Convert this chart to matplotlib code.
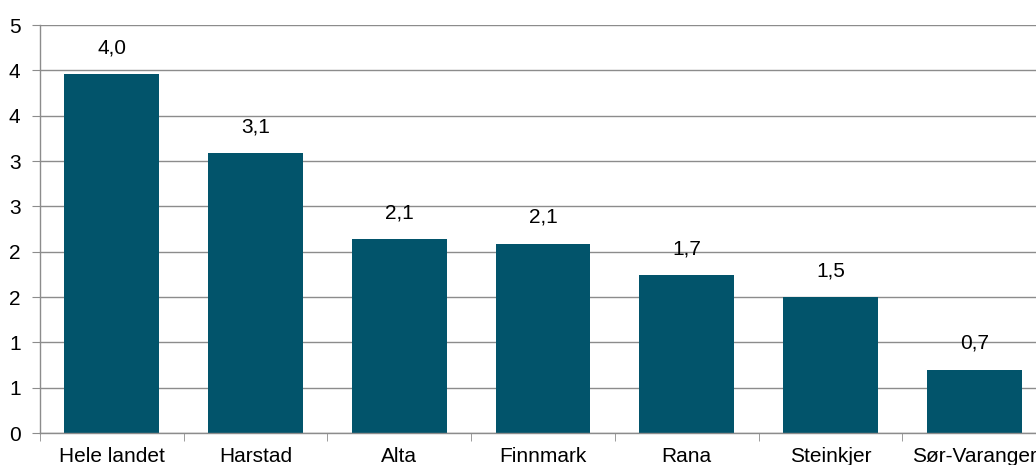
import matplotlib
matplotlib.use("Agg")
import matplotlib.pyplot as plt
from matplotlib.ticker import FixedLocator, FuncFormatter

categories = ["Hele landet", "Harstad", "Alta", "Finnmark", "Rana", "Steinkjer", "Sør-Varanger"]
values = [3.96, 3.09, 2.14, 2.09, 1.74, 1.50, 0.70]
y_ticks = [0, 0.5, 1, 1.5, 2, 2.5, 3, 3.5, 4, 4.5]

plt.rcParams['font.family'] = ['Liberation Sans', 'DejaVu Sans']
FS = 15

fig = plt.figure(figsize=(10.36, 4.65), dpi=100)
ax = fig.add_axes([40/1036, 32/465, 1006/1036, 408/465])

x = list(range(len(categories)))
ax.bar(x, values, width=0.66, color="#02546b", zorder=3)

for xi, v in zip(x, values):
    ax.annotate(f"{v:.1f}".replace(".", ","), (xi, v), xytext=(0, 12),
                textcoords="offset points", ha="center", va="bottom",
                fontsize=FS, color="#000000")

ax.set_xlim(-0.5, len(categories) - 0.5)
ax.set_ylim(0, 4.5)
ax.yaxis.set_major_locator(FixedLocator(y_ticks))
ax.yaxis.set_major_formatter(FuncFormatter(lambda v, p: f"{int(v + 0.5)}" if v > 0 else "0"))
ax.grid(axis="y", color="#8c8c8c", linewidth=1, zorder=0)

ax.set_xticks(x)
ax.set_xticklabels(categories, fontsize=FS)
ax.set_xticks([i + 0.5 for i in range(-1, len(categories))], minor=True)
ax.tick_params(axis="x", which="major", length=0, pad=10)
ax.tick_params(axis="x", which="minor", length=6, color="#8c8c8c", direction="out")
ax.tick_params(axis="y", length=6, color="#8c8c8c", labelsize=FS, pad=8)

for s in ["top", "right"]:
    ax.spines[s].set_visible(False)
for s in ["left", "bottom"]:
    ax.spines[s].set_color("#8c8c8c")
    ax.spines[s].set_linewidth(1)
    ax.spines[s].set_zorder(4)

fig.savefig("out.png", dpi=100)
